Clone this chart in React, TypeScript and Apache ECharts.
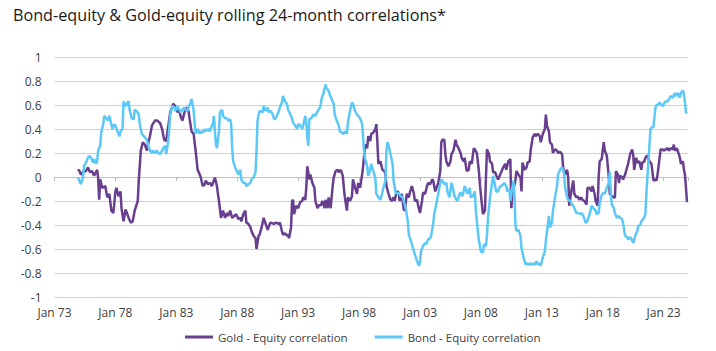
import React, { useEffect, useRef } from "react";
import * as echarts from "echarts";

// x positions are months since Jan 1973
const goldMonths = [23,24,26,28,31,33,35,37,39,42,43,44,45,47,50,52,54,56,58,60,61,63,65,66,68,70,73,75,77,79,82,83,85,87,89,91,92,94,96,99,101,104,106,108,110,112,114,117,119,121,123,124,126,128,130,132,133,135,137,138,139,141,143,144,146,148,149,151,153,155,156,158,160,161,162,164,166,168,170,171,173,175,177,179,181,183,184,186,188,189,191,193,194,196,198,199,201,202,204,206,208,210,212,213,216,218,221,222,224,225,227,229,230,231,233,234,235,236,238,240,242,244,245,247,248,249,251,252,254,256,257,259,261,262,264,266,267,269,270,272,274,275,277,279,280,282,284,285,286,288,289,291,293,294,296,298,299,301,303,304,306,308,309,311,312,314,316,317,318,319,321,323,325,326,327,329,331,332,334,335,337,339,340,342,344,345,347,349,350,352,354,355,357,358,360,362,363,365,367,368,370,372,373,375,377,378,380,381,382,384,385,386,388,390,391,393,395,396,398,400,401,403,404,406,408,409,411,413,414,416,418,419,421,422,424,425,426,428,429,431,432,434,436,437,439,441,442,444,445,447,449,450,451,452,454,455,457,459,460,461,463,465,466,468,469,471,473,474,476,478,479,481,483,484,485,487,488,490,491,493,495,496,498,500,501,503,505,506,507,509,511,512,514,515,517,519,520,522,524,525,527,529,530,532,533,535,536,537,539,541,542,543,544,546,547,549,551,552,553,555,556,557,559,560,562,564,565,567,569,570,571,573,574,576,578,579,581,582,584,586,587,588,590,592,593,594,596,597,599,600,602,604,605,607,609,610,611,613,615,616,617,619,620,621,622,623];
const goldValues = [0.05,0.06,0.02,0.04,0.05,0.08,0.04,0.05,0.01,0.06,-0.01,-0.19,-0.02,-0.09,-0.075,-0.17,-0.14,-0.28,-0.3,-0.12,-0.09,-0.16,-0.12,-0.26,-0.37,-0.27,-0.34,-0.38,-0.37,-0.28,-0.2,-0.03,0.22,0.29,0.27,0.22,0.27,0.34,0.43,0.47,0.47,0.45,0.4,0.31,0.3,0.42,0.54,0.61,0.59,0.54,0.56,0.51,0.47,0.54,0.58,0.55,0.49,0.38,0.36,0.29,0.22,0.06,0.02,0,-0.075,-0.06,-0.03,-0.06,-0.05,-0.075,-0.05,-0.005,-0.075,-0.14,-0.2,-0.34,-0.28,-0.34,-0.3,-0.325,-0.28,-0.34,-0.325,-0.31,-0.35,-0.34,-0.37,-0.31,-0.28,-0.38,-0.39,-0.42,-0.45,-0.49,-0.51,-0.6,-0.49,-0.48,-0.42,-0.34,-0.39,-0.44,-0.39,-0.38,-0.39,-0.38,-0.39,-0.38,-0.45,-0.48,-0.47,-0.49,-0.48,-0.51,-0.42,-0.2,-0.19,-0.31,-0.24,-0.26,-0.21,-0.2,-0.17,-0.19,-0.09,0.09,-0.02,0.02,-0.05,-0.09,-0.2,-0.26,-0.23,-0.24,-0.2,-0.26,-0.19,-0.26,-0.17,-0.26,-0.075,-0.005,0.05,0.06,0.04,0.06,0.01,-0.09,-0.17,-0.28,-0.17,-0.2,-0.16,-0.02,-0.09,-0.14,-0.05,-0.09,0.02,0.09,0.27,0.24,0.34,0.3,0.36,0.37,0.4,0.44,0.3,0.11,0.13,0.06,0.05,0.02,-0.075,-0.14,-0.19,-0.2,-0.17,-0.2,-0.12,-0.13,-0.2,-0.14,-0.27,-0.28,-0.14,-0.17,-0.13,-0.075,-0.14,-0.2,-0.19,-0.23,-0.3,-0.2,-0.13,-0.14,-0.075,-0.05,-0.06,-0.02,-0.03,-0.12,-0.075,-0.05,0.05,0.29,0.31,0.31,0.19,0.13,0.09,0.13,0.19,0.22,0.31,0.27,0.24,0.2,0.16,0.13,0.16,0.05,0.06,0.13,0.11,0.24,0.23,0.2,0.05,-0.06,-0.23,-0.31,-0.28,0,0.23,0.19,0.13,0.11,0.04,0.04,-0.005,-0.02,0.02,0.06,0.08,0.11,0.06,0.13,0.15,-0.26,-0.14,-0.1,-0.03,0.05,0.02,-0.005,-0.12,0.12,0.06,0.08,0.12,0.13,0.22,0.33,0.36,0.34,0.36,0.34,0.29,0.36,0.4,0.52,0.43,0.38,0.29,0.27,0.2,0.23,0.22,0.2,0.21,0.19,0.08,0.02,0.06,-0.005,-0.24,-0.12,-0.03,-0.14,-0.17,-0.16,-0.19,-0.17,-0.19,-0.2,-0.23,-0.09,-0.09,-0.12,-0.075,-0.14,-0.2,-0.24,0,0.13,0.15,0.29,0.22,0.2,0.18,0,-0.14,-0.16,-0.17,-0.17,0.05,0.02,-0.05,0.01,0,-0.02,0.02,0.08,0.11,0.19,0.23,0.19,0.06,0.16,0.12,0.13,0.06,0.12,0.13,0.16,0.18,0.13,0.12,0.11,-0.03,-0.02,-0.03,0.02,0.16,0.23,0.23,0.22,0.23,0.24,0.22,0.24,0.23,0.27,0.22,0.24,0.19,0.16,0.11,0.13,0.06,0.02,-0.09,-0.21];

const bondMonths = [23,24,26,28,29,31,33,34,36,38,39,41,42,43,45,46,48,49,51,52,53,54,56,57,59,60,62,64,65,67,68,70,72,73,74,76,78,79,81,83,84,86,88,89,91,92,94,96,97,99,101,102,104,106,107,109,110,112,113,114,116,118,119,121,123,124,126,128,129,131,132,134,135,137,138,139,141,143,144,146,148,149,151,153,154,156,157,158,159,160,162,163,165,166,168,170,171,173,174,175,176,178,179,181,183,184,186,188,189,191,193,194,196,198,199,200,201,202,205,206,208,210,211,213,215,216,217,219,221,222,224,225,227,229,230,232,234,235,237,239,240,242,244,245,247,248,249,250,251,253,255,257,258,260,262,263,265,267,268,270,271,273,275,276,278,280,281,283,285,286,288,289,291,293,294,296,298,299,301,303,304,305,306,308,309,311,312,314,316,317,319,321,322,324,326,327,328,330,331,333,334,336,338,339,341,343,344,346,348,349,351,353,354,356,357,359,360,361,363,365,366,368,370,371,373,374,376,378,379,381,382,384,386,387,389,391,392,394,396,397,399,400,402,404,405,407,409,410,412,414,415,417,418,420,422,423,425,426,427,429,431,432,434,435,437,438,440,442,443,445,446,448,449,451,452,453,454,455,457,459,460,462,464,465,467,468,470,472,473,475,476,478,479,481,483,484,486,487,488,490,491,493,495,496,498,500,501,502,503,505,506,508,510,511,513,514,516,518,519,521,523,524,526,528,529,531,533,534,536,537,539,541,542,544,546,547,548,549,551,552,554,556,557,559,560,562,564,565,567,569,570,572,574,575,577,578,580,582,583,585,587,588,590,592,593,594,596,598,599,601,602,604,606,607,609,611,612,614,616,617,619,620,621,622,623];
const bondValues = [-0.005,-0.02,-0.06,-0.005,0.09,0.12,0.16,0.175,0.16,0.12,0.15,0.11,0.13,0.22,0.26,0.37,0.44,0.51,0.49,0.48,0.47,0.51,0.44,0.4,0.44,0.43,0.38,0.34,0.38,0.4,0.63,0.59,0.62,0.63,0.56,0.49,0.48,0.56,0.55,0.52,0.44,0.36,0.34,0.33,0.31,0.27,0.22,0.2,0.22,0.2,0.22,0.2,0.19,0.22,0.24,0.26,0.19,0.3,0.4,0.52,0.59,0.58,0.55,0.59,0.56,0.54,0.56,0.58,0.56,0.55,0.58,0.62,0.65,0.56,0.45,0.36,0.4,0.36,0.38,0.37,0.4,0.38,0.4,0.38,0.41,0.44,0.51,0.38,0.27,0.24,0.38,0.54,0.56,0.51,0.49,0.49,0.47,0.48,0.44,0.24,0.13,0.08,0.06,0.02,0.06,-0.02,-0.05,-0.05,-0.075,-0.06,-0.05,-0.02,-0.005,0.04,0.22,0.47,0.52,0.55,0.54,0.59,0.55,0.58,0.54,0.55,0.52,0.49,0.48,0.51,0.55,0.58,0.62,0.675,0.63,0.61,0.56,0.53,0.49,0.45,0.43,0.4,0.44,0.43,0.4,0.43,0.51,0.45,0.33,0.26,0.48,0.49,0.52,0.51,0.53,0.56,0.59,0.65,0.7,0.77,0.74,0.72,0.69,0.65,0.61,0.52,0.47,0.43,0.38,0.37,0.36,0.38,0.36,0.45,0.55,0.62,0.61,0.55,0.52,0.51,0.49,0.44,0.33,0.2,0.15,0.09,0.01,0.06,0.11,0.05,-0.005,-0.14,-0.17,-0.19,-0.16,-0.09,-0.03,0.22,0.29,0.23,0.19,0.11,-0.03,-0.13,-0.14,-0.13,-0.16,-0.17,-0.2,-0.26,-0.37,-0.48,-0.53,-0.59,-0.62,-0.67,-0.7,-0.74,-0.71,-0.62,-0.575,-0.55,-0.56,-0.52,-0.51,-0.49,-0.39,-0.31,-0.23,-0.14,-0.09,-0.02,-0.03,-0.06,-0.05,-0.12,-0.17,-0.05,-0.075,-0.16,-0.19,-0.2,-0.14,-0.13,-0.16,-0.075,-0.1,-0.14,-0.09,-0.17,-0.16,-0.12,-0.28,-0.45,-0.53,-0.62,-0.63,-0.56,-0.575,-0.48,-0.34,-0.17,-0.05,0.01,-0.075,-0.12,-0.12,-0.09,-0.075,-0.06,-0.05,-0.075,-0.12,-0.1,-0.2,-0.09,-0.03,-0.14,-0.39,-0.45,-0.44,-0.49,-0.59,-0.67,-0.73,-0.72,-0.73,-0.72,-0.73,-0.72,-0.73,-0.7,-0.73,-0.72,-0.74,-0.67,-0.62,-0.53,-0.39,-0.325,-0.42,-0.38,-0.28,-0.17,-0.075,0.02,0.06,0.08,0.06,0.02,-0.09,-0.17,-0.19,-0.2,-0.23,-0.24,-0.28,-0.3,-0.3,-0.31,-0.3,-0.325,-0.38,-0.38,-0.34,-0.28,-0.24,-0.26,-0.28,-0.31,-0.3,-0.22,-0.15,-0.13,-0.14,-0.09,-0.05,0.04,-0.14,-0.23,-0.26,-0.3,-0.34,-0.325,-0.34,-0.35,-0.38,-0.49,-0.5,-0.52,-0.5,-0.53,-0.55,-0.49,-0.45,-0.41,-0.4,-0.37,-0.35,-0.31,-0.14,0.13,0.4,0.41,0.42,0.58,0.6,0.6,0.62,0.6,0.59,0.62,0.63,0.63,0.66,0.675,0.66,0.7,0.675,0.7,0.66,0.7,0.72,0.69,0.62,0.54,0.53];

const seriesNames = ["Gold - Equity correlation", "Bond - Equity correlation"];
const xTickMonths = 60;
const xMaxMonths = 624;
const startYear = 1973;

const GOLD = "#683e8e";
const BOND = "#5cc8f5";
const FONT = "'Open Sans', 'Noto Sans', sans-serif";

function pairs(ms: number[], vs: number[]) {
  return ms.map((m, i) => [m, vs[i]]);
}

export default function App() {
  const ref = useRef<HTMLDivElement>(null);
  useEffect(() => {
    if (!ref.current) return;
    const chart = echarts.init(ref.current, null, { renderer: "svg" });
    const xLabel = (v: number) => {
      if (v % xTickMonths !== 0 || v >= xMaxMonths) return "";
      const y = startYear + v / 12;
      return "Jan " + String(y % 100).padStart(2, "0");
    };
    chart.setOption({
      animation: false,
      backgroundColor: "#ffffff",
      title: {
        text: "Bond-equity & Gold-equity rolling 24-month correlations*",
        left: 13,
        top: 7,
        padding: 0,
        textStyle: { fontFamily: FONT, fontSize: 16.2, fontWeight: "normal", color: "#1a1a1a" },
      },
      grid: { left: 54.5, right: 28, top: 57, bottom: 54, containLabel: false },
      legend: {
        left: 180,
        top: 326,
        itemWidth: 28,
        itemHeight: 3,
        itemGap: 27,
        icon: "rect",
        textStyle: { fontFamily: FONT, fontSize: 11.5, color: "#404040" },
        data: seriesNames,
      },
      xAxis: [
        {
          type: "value",
          min: 0,
          max: xMaxMonths,
          interval: xTickMonths,
          axisLine: { show: false },
          axisTick: { show: false },
          splitLine: { show: false },
          axisLabel: {
            formatter: xLabel,
            fontFamily: FONT,
            fontSize: 12,
            color: "#404040",
            margin: 9,
            showMaxLabel: false,
          },
        },
        {
          type: "value",
          min: 0,
          max: xMaxMonths,
          interval: xTickMonths,
          position: "bottom",
          offset: -120,
          axisLine: { show: true, lineStyle: { color: "#bfbfbf", width: 1 } },
          axisTick: { show: true, length: 4, lineStyle: { color: "#bfbfbf" } },
          axisLabel: { show: false },
          splitLine: { show: false },
        },
      ],
      yAxis: {
        type: "value",
        min: -1,
        max: 1,
        interval: 0.2,
        axisLine: { show: false },
        axisTick: { show: false },
        splitLine: { lineStyle: { color: "#d0d0d0", width: 1 } },
        axisLabel: {
          fontFamily: FONT,
          fontSize: 12,
          color: "#404040",
          margin: 13,
          formatter: (v: number) => String(Math.round(v * 10) / 10),
        },
      },
      series: [
        {
          name: seriesNames[0],
          type: "line",
          xAxisIndex: 0,
          data: pairs(goldMonths, goldValues),
          showSymbol: false,
          symbol: "none",
          lineStyle: { color: GOLD, width: 2.5 },
          itemStyle: { color: GOLD },
        },
        {
          name: seriesNames[1],
          type: "line",
          xAxisIndex: 0,
          data: pairs(bondMonths, bondValues),
          showSymbol: false,
          symbol: "none",
          lineStyle: { color: BOND, width: 2.5 },
          itemStyle: { color: BOND },
        },
      ],
    });
    return () => chart.dispose();
  }, []);
  return (
    <div
      ref={ref}
      style={{ position: "fixed", left: 0, top: 0, width: 716, height: 351, background: "#fff" }}
    />
  );
}
